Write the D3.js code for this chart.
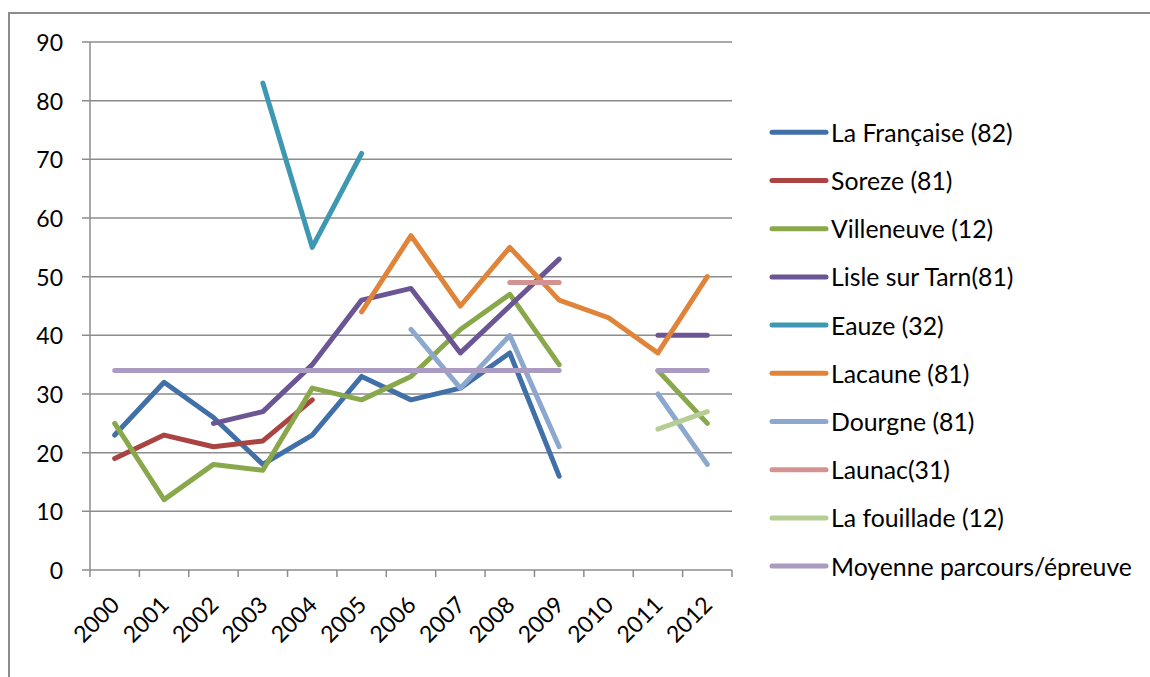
<!DOCTYPE html>
<html><head><meta charset="utf-8">
<script src="https://cdn.jsdelivr.net/npm/d3@7"></script>
<style>
html,body{margin:0;padding:0;background:#fff;}
svg{display:block;font-family:Lato,"Open Sans",sans-serif;}
</style></head>
<body>
<svg id="chart" width="1150" height="677"></svg>
<script>
const years = ["2000","2001","2002","2003","2004","2005","2006","2007","2008","2009","2010","2011","2012"];
const yTicks = [0,10,20,30,40,50,60,70,80,90];
const seriesNames = ["La Française (82)","Soreze (81)","Villeneuve (12)","Lisle sur Tarn(81)","Eauze (32)","Lacaune (81)","Dourgne (81)","Launac(31)","La fouillade (12)","Moyenne parcours/épreuve"];
const seriesColors = ["#4170A9","#AA4442","#89A84B","#6C5594","#3F98B1","#E0843A","#8DA8CF","#D49291","#B6CE94","#A99BC1"];
const laFrancaise = [23,32,26,18,23,33,29,31,37,16,null,null,null];
const soreze      = [19,23,21,22,29,null,null,null,null,null,null,null,null];
const villeneuve  = [25,12,18,17,31,29,33,41,47,35,null,34,25];
const lisle       = [null,null,25,27,35,46,48,37,45,53,null,40,40];
const eauze       = [null,null,null,83,55,71,null,null,null,null,null,null,null];
const lacaune     = [null,null,null,null,null,44,57,45,55,46,43,37,50];
const dourgne     = [null,null,null,null,null,null,41,31,40,21,null,30,18];
const launac      = [null,null,null,null,null,null,null,null,49,49,null,null,null];
const fouillade   = [null,null,null,null,null,null,null,null,null,null,null,24,27];
const moyenne     = [34,34,34,34,34,34,34,34,34,34,null,34,34];
const seriesValues = [laFrancaise,soreze,villeneuve,lisle,eauze,lacaune,dourgne,launac,fouillade,moyenne];

const svg = d3.select("#chart");
const grid = "#8c8c8c";

// outer frame
svg.append("rect").attr("x",9).attr("y",13).attr("width",1300).attr("height",800)
  .attr("fill","none").attr("stroke","#8c8c8c").attr("stroke-width",2);

const x = d3.scaleBand().domain(years).range([90,732]);
const y = d3.scaleLinear().domain([0,90]).range([570,42]);
const cx = d => x(d) + x.bandwidth()/2;

// gridlines
svg.append("g").selectAll("line").data(yTicks).join("line")
  .attr("x1",82).attr("x2",732).attr("y1",d=>y(d)).attr("y2",d=>y(d))
  .attr("stroke",grid).attr("stroke-width",1.5);

// y axis line
svg.append("line").attr("x1",90).attr("x2",90).attr("y1",y(90)).attr("y2",y(0))
  .attr("stroke",grid).attr("stroke-width",1.5);

// y labels
svg.append("g").selectAll("text").data(yTicks).join("text")
  .attr("x",63).attr("y",d=>y(d)).attr("text-anchor","end").attr("dominant-baseline","central")
  .attr("font-size",23).attr("fill","#000").text(d=>d);

// x tick marks at band boundaries
const bounds = years.map(d=>x(d)).concat([x.range()[1]]);
svg.append("g").selectAll("line").data(bounds).join("line")
  .attr("x1",d=>d).attr("x2",d=>d).attr("y1",y(0)).attr("y2",y(0)+7)
  .attr("stroke",grid).attr("stroke-width",1.5);

// x labels
svg.append("g").selectAll("text").data(years).join("text")
  .attr("transform",d=>`translate(${cx(d)},${y(0)+30}) rotate(-45)`)
  .attr("text-anchor","end").attr("dominant-baseline","central")
  .attr("font-size",23).attr("fill","#000").text(d=>d);

// lines
const line = d3.line().defined(d=>d.v!=null).x(d=>cx(d.k)).y(d=>y(d.v));
seriesValues.forEach((vals,i)=>{
  svg.append("path").datum(years.map((k,j)=>({k,v:vals[j]})))
    .attr("d",line).attr("fill","none").attr("stroke",seriesColors[i])
    .attr("stroke-width",5).attr("stroke-linecap","round").attr("stroke-linejoin","round");
});

// legend
const lg = svg.append("g");
seriesNames.forEach((n,i)=>{
  const ly = 132.3 + i*48.2;
  lg.append("line").attr("x1",772).attr("x2",826).attr("y1",ly).attr("y2",ly)
    .attr("stroke",seriesColors[i]).attr("stroke-width",5).attr("stroke-linecap","round");
  lg.append("text").attr("x",831).attr("y",ly).attr("dominant-baseline","central")
    .attr("font-size",24.8).attr("fill","#000").text(n);
});
</script>
</body></html>
